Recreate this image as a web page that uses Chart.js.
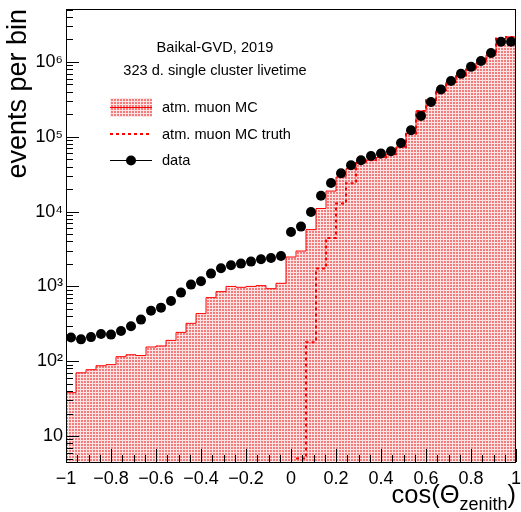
<!DOCTYPE html>
<html>
<head>
<meta charset="utf-8">
<script src="https://cdn.jsdelivr.net/npm/chart.js@4.4.1/dist/chart.umd.min.js"></script>
<style>
  html, body { margin: 0; padding: 0; background: #fff; }
  #wrap { width: 521px; height: 512px; }
</style>
</head>
<body>
<div id="wrap"><canvas id="myChart" width="521" height="512"></canvas></div>
<script>
// histogram binning in cos(zenith)
var binLow = -1;
var binHigh = 1;
var nBins = 45;

// atm. muon MC (per bin, left to right)
var mcCounts = [38, 70, 77, 87, 90, 115, 122, 119, 155, 160,
  190, 243, 321, 433, 708, 851, 1000, 973, 1000, 1024,
  933, 1100, 2470, 2970, 5740, 11000, 18800, 29000, 37500, 44700,
  48500, 52700, 58300, 73100, 110000, 221000, 308000, 419000, 541000, 664000,
  791000, 970000, 1230000, 2050000, 2160000];

// atm. muon MC truth (empty bins = null)
var truthCounts = [null, null, null, null, null, null, null, null, null, null,
  null, null, null, null, null, null, null, null, null, null,
  null, null, null, 5, 180, 1730, 4440, 12800, 24000, 44700,
  48500, 52700, 58300, 73100, 110000, 221000, 308000, 419000, 541000, 664000,
  791000, 970000, 1230000, 2050000, 2160000];

// data
var dataCounts = [207, 196, 210, 231, 227, 253, 293, 360, 474, 520,
  638, 826, 1057, 1170, 1483, 1746, 1915, 2018, 2145, 2303,
  2400, 2550, 5330, 6300, 9900, 16300, 24100, 32500, 41600, 48500,
  55400, 59600, 64000, 82600, 122000, 190000, 292000, 428000, 557000, 695000,
  860000, 1030000, 1320000, 1860000, 1860000];

var xTicks = [-1, -0.8, -0.6, -0.4, -0.2, 0, 0.2, 0.4, 0.6, 0.8, 1];
var yTicks = [10, 100, 1000, 10000, 100000, 1000000];
var yTickLabels = ['10', '10\u00b2', '10\u00b3', '10\u2074', '10\u2075', '10\u2076'];

var FONT = "'Liberation Sans', Arial, Helvetica, sans-serif";
Chart.defaults.font.family = FONT;
Chart.defaults.color = '#000';

var binWidth = (binHigh - binLow) / nBins;

// histogram outline: one point per low edge + closing point at the high edge
function histPoints(counts) {
  var pts = [];
  for (var k = 0; k < counts.length; k++) {
    pts.push({ x: binLow + k * binWidth, y: counts[k] });
  }
  pts.push({ x: binHigh, y: counts[counts.length - 1] });
  return pts;
}

function centerPoints(counts) {
  return counts.map(function (v, k) {
    return { x: binLow + (k + 0.5) * binWidth, y: v };
  });
}

var ctx = document.getElementById('myChart').getContext('2d');

function makeHatch() {
  var c = document.createElement('canvas');
  c.width = 3; c.height = 3;
  var g = c.getContext('2d');
  g.fillStyle = '#fde4e4';
  g.fillRect(0, 0, 3, 3);
  g.fillStyle = '#f27c7c';
  g.fillRect(0, 0, 2, 2);
  return ctx.createPattern(c, 'repeat');
}
var hatch = makeHatch();

function fmtX(v) {
  var r = Math.round(v * 10) / 10;
  if (r < 0) return '\u2212' + String(Math.abs(r));
  return String(r);
}

// no extra room for the end labels, the frame sits where padding says
function noLabelPadding(scale) {
  scale.paddingTop = 0;
  scale.paddingBottom = 0;
  scale.paddingLeft = 0;
  scale.paddingRight = 0;
}

// ROOT style frame with ticks pointing inwards
var frameTicks = {
  id: 'frameTicks',
  afterDatasetsDraw: function (chart) {
    var a = chart.chartArea;
    var xs = chart.scales.x, ys = chart.scales.y;
    var c = chart.ctx;
    c.save();
    c.strokeStyle = '#000';
    c.lineWidth = 1;
    c.beginPath();
    xTicks.forEach(function (v) {
      var px = Math.round(xs.getPixelForValue(v)) + 0.5;
      c.moveTo(px, a.bottom); c.lineTo(px, a.bottom - 13);
    });
    for (var v = binLow; v <= binHigh + 1e-9; v += 0.05) {
      var px = Math.round(xs.getPixelForValue(v)) + 0.5;
      c.moveTo(px, a.bottom); c.lineTo(px, a.bottom - 7);
    }
    yTicks.forEach(function (t) {
      var py = Math.round(ys.getPixelForValue(t)) + 0.5;
      c.moveTo(a.left, py); c.lineTo(a.left + 13, py);
    });
    for (var d = 1; d <= 1e7; d *= 10) {
      for (var m = 2; m <= 9; m++) {
        var val = m * d;
        if (val < ys.min || val > ys.max) continue;
        var py2 = Math.round(ys.getPixelForValue(val)) + 0.5;
        c.moveTo(a.left, py2); c.lineTo(a.left + 7, py2);
      }
    }
    c.stroke();
    c.strokeRect(Math.round(a.left) + 0.5, Math.round(a.top) + 0.5,
      Math.round(a.right - a.left) - 1, Math.round(a.bottom - a.top));
    c.restore();
  },
  afterDraw: function (chart) {
    var c = chart.ctx;
    c.save();
    c.fillStyle = '#000';
    c.font = '14.6px ' + FONT;
    c.textAlign = 'center';
    c.fillText('Baikal-GVD, 2019', 215, 52);
    c.fillText('323 d. single cluster livetime', 215, 74.5);

    // legend
    c.fillStyle = hatch;
    c.fillRect(110, 98, 42, 19);
    c.strokeStyle = '#ff0000';
    c.lineWidth = 1;
    c.beginPath(); c.moveTo(110, 107.5); c.lineTo(152, 107.5); c.stroke();
    c.lineWidth = 2;
    c.setLineDash([3, 3]);
    c.beginPath(); c.moveTo(110, 134); c.lineTo(152, 134); c.stroke();
    c.setLineDash([]);
    c.strokeStyle = '#000';
    c.lineWidth = 1;
    c.beginPath(); c.moveTo(110, 160.5); c.lineTo(152, 160.5); c.stroke();
    c.fillStyle = '#000';
    c.beginPath(); c.arc(131, 160.5, 5, 0, Math.PI * 2); c.fill();
    c.textAlign = 'left';
    c.fillText('atm. muon MC', 162, 112);
    c.fillText('atm. muon MC truth', 162, 138.5);
    c.fillText('data', 162, 165);

    // x axis title with subscript
    var right = chart.chartArea.right;
    c.font = '25.5px ' + FONT;
    var w3 = c.measureText(')').width;
    c.font = '18px ' + FONT;
    var w2 = c.measureText('zenith').width;
    c.font = '25.5px ' + FONT;
    var w1 = c.measureText('cos(\u0398').width;
    var x0 = right - w1 - w2 - w3;
    c.fillText('cos(\u0398', x0, 503);
    c.font = '18px ' + FONT;
    c.fillText('zenith', x0 + w1, 510);
    c.font = '25.5px ' + FONT;
    c.fillText(')', x0 + w1 + w2, 503);
    c.restore();
  }
};

new Chart(ctx, {
  type: 'line',
  data: {
    datasets: [
      {
        label: 'data',
        data: centerPoints(dataCounts),
        showLine: false,
        pointRadius: 5,
        pointBackgroundColor: '#000',
        pointBorderWidth: 0,
        order: 0
      },
      {
        label: 'atm. muon MC truth',
        data: histPoints(truthCounts),
        stepped: 'before',
        borderColor: '#ff0000',
        borderWidth: 2,
        borderDash: [3, 3],
        pointRadius: 0,
        fill: false,
        order: 1
      },
      {
        label: 'atm. muon MC',
        data: histPoints(mcCounts),
        stepped: 'before',
        borderColor: '#ff0000',
        borderWidth: 1,
        backgroundColor: hatch,
        pointRadius: 0,
        fill: 'start',
        order: 2
      }
    ]
  },
  options: {
    responsive: false,
    animation: false,
    layout: { padding: { top: 9, right: 4, left: 0, bottom: 0 } },
    plugins: {
      legend: { display: false },
      tooltip: { enabled: false }
    },
    scales: {
      x: {
        type: 'linear',
        min: binLow,
        max: binHigh,
        grid: { display: false, drawTicks: false },
        border: { display: false },
        afterBuildTicks: function (scale) {
          scale.ticks = xTicks.map(function (v) { return { value: v }; });
        },
        afterFit: function (scale) { scale.height = 50; noLabelPadding(scale); },
        ticks: {
          autoSkip: false,
          maxRotation: 0,
          padding: 6,
          font: { size: 18 },
          callback: function (value) { return fmtX(value); }
        }
      },
      y: {
        type: 'logarithmic',
        min: 4.5,
        max: 5.1e6,
        grid: { display: false, drawTicks: false },
        border: { display: false },
        afterBuildTicks: function (scale) {
          scale.ticks = yTicks.map(function (v) { return { value: v }; });
        },
        afterFit: function (scale) { scale.width = 66; noLabelPadding(scale); },
        ticks: {
          autoSkip: false,
          padding: 3,
          font: { size: 18 },
          callback: function (value, index) { return yTickLabels[index]; }
        },
        title: {
          display: true,
          text: 'events per bin',
          align: 'end',
          font: { size: 27 },
          padding: { top: 2, bottom: 0 }
        }
      }
    }
  },
  plugins: [frameTicks]
});
</script>
</body>
</html>
